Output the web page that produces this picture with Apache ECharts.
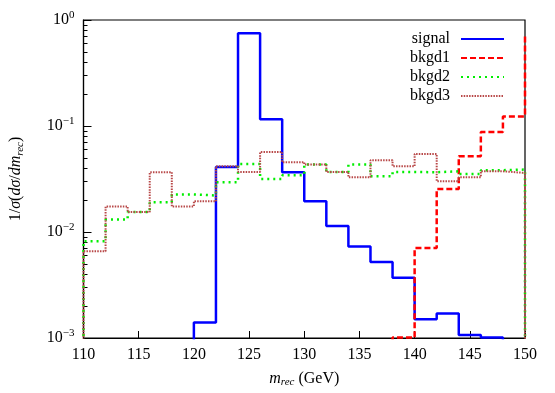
<!DOCTYPE html>
<html>
<head>
<meta charset="utf-8">
<script src="https://cdn.jsdelivr.net/npm/echarts@6/dist/echarts.min.js"></script>
<style>
  html, body { margin: 0; padding: 0; background: #fff; }
  #chart { width: 555px; height: 393px; }
</style>
</head>
<body>
<div id="chart"></div>
<script>
// bin left edges (GeV), each bin is 2 GeV wide; 0 = empty bin
const binLeft = [108, 110, 112, 114, 116, 118, 120, 122, 124, 126, 128,
                 130, 132, 134, 136, 138, 140, 142, 144, 146, 148, 150]
const signal = [0, 0, 0, 0, 0, 0, 0.0014, 0.0411, 0.75, 0.116, 0.0366,
                0.0195, 0.0114, 0.0073, 0.0052, 0.0037, 0.0015, 0.0017, 0.00107, 0.00101, 0, 0]
const bkgd1 = [0, 0, 0, 0, 0, 0, 0, 0, 0, 0, 0,
               0, 0, 0, 0, 0.00101, 0.00706, 0.0255, 0.0518, 0.0878, 0.123, 0.7]
const bkgd2 = [0, 0.0082, 0.0131, 0.0154, 0.0191, 0.0226, 0.0221, 0.0295, 0.0439, 0.0317, 0.0343,
               0.0433, 0.0369, 0.0433, 0.0336, 0.0369, 0.0366, 0.0374, 0.0353, 0.0383, 0.0388, 0]
const bkgd3 = [0, 0.0066, 0.0174, 0.0154, 0.0366, 0.0174, 0.0195, 0.0417, 0.0369, 0.0569, 0.0455,
               0.0433, 0.0369, 0.0328, 0.0475, 0.0417, 0.0545, 0.0301, 0.0329, 0.0374, 0.0361, 0]

const xTicks = [110, 115, 120, 125, 130, 135, 140, 145, 150]
const yTicks = [0.001, 0.01, 0.1, 1]
const yMinor = [0.002, 0.003, 0.004, 0.005, 0.006, 0.007, 0.008, 0.009,
                0.02, 0.03, 0.04, 0.05, 0.06, 0.07, 0.08, 0.09,
                0.2, 0.3, 0.4, 0.5, 0.6, 0.7, 0.8, 0.9]

const FONT = 'Liberation Serif'

// histogram -> step points (empty bins pushed far below the axis, clipped)
function toSteps(vals) {
  let pts = binLeft.map((x, i) => [x, vals[i] > 0 ? vals[i] : 1e-9])
  pts.push([binLeft[binLeft.length - 1] + 2, pts[pts.length - 1][1]])
  return pts
}

function histo(name, vals, color, type, width) {
  return {
    name: name,
    type: 'line',
    step: 'end',
    symbol: 'none',
    clip: true,
    animation: false,
    lineStyle: { color: color, width: width, type: type, cap: 'butt' },
    itemStyle: { color: color },
    data: toSteps(vals)
  }
}

let myChart = echarts.init(document.getElementById('chart'))
myChart.setOption({
  animation: false,
  textStyle: { fontFamily: FONT },
  grid: {
    left: 82, right: 30, top: 20, bottom: 54,
    show: true, borderColor: '#000', borderWidth: 1.2, backgroundColor: 'transparent'
  },
  legend: {
    orient: 'vertical',
    right: 45, top: 26,
    align: 'right',
    itemWidth: 43, itemHeight: 14, itemGap: 3,
    itemStyle: { opacity: 0 },
    textStyle: { fontFamily: FONT, fontSize: 16, color: '#000', padding: [0, 6, 0, 0] },
    data: ['signal', 'bkgd1', 'bkgd2', 'bkgd3']
  },
  xAxis: {
    type: 'value',
    min: 110, max: 150, interval: 5,
    name: '{i|m}{sub|rec}{a| (GeV)}',
    nameLocation: 'middle',
    nameGap: 31,
    nameTextStyle: {
      rich: {
        a: { fontFamily: FONT, fontSize: 16, color: '#000' },
        i: { fontFamily: FONT, fontSize: 16, fontStyle: 'italic', color: '#000' },
        sub: { fontFamily: FONT, fontSize: 11, fontStyle: 'italic', color: '#000', padding: [8, 0, 0, 0] }
      }
    },
    axisLine: { lineStyle: { color: '#000', width: 1.2 } },
    axisTick: { inside: true, length: 7, lineStyle: { color: '#000' }, customValues: xTicks },
    axisLabel: { margin: 9, fontFamily: FONT, fontSize: 16, color: '#000', customValues: xTicks },
    splitLine: { show: false }
  },
  yAxis: [
    {
      type: 'log', logBase: 10,
      min: 0.001, max: 1,
      name: '{a|1/}{i|σ}{a|(}{i|dσ}{a|/}{i|dm}{sub|rec}{a|)}',
      nameLocation: 'middle',
      nameGap: 58,
      nameTextStyle: {
        rich: {
          a: { fontFamily: FONT, fontSize: 16, color: '#000' },
          i: { fontFamily: FONT, fontSize: 16, fontStyle: 'italic', color: '#000' },
          sub: { fontFamily: FONT, fontSize: 11, fontStyle: 'italic', color: '#000', padding: [8, 0, 0, 0] }
        }
      },
      axisLine: { show: true, lineStyle: { color: '#000', width: 1.2 } },
      axisTick: { inside: true, length: 8, lineStyle: { color: '#000' }, customValues: yTicks },
      axisLabel: {
        margin: 9,
        customValues: yTicks,
        formatter: function (v) {
          let e = Math.round(Math.log10(v))
          return '{b|10}{s|' + (e < 0 ? '−' + (-e) : e) + '}'
        },
        rich: {
          b: { fontFamily: FONT, fontSize: 16, color: '#000' },
          s: { fontFamily: FONT, fontSize: 11, color: '#000', padding: [0, 0, 9, 0] }
        }
      },
      splitLine: { show: false }
    },
    {
      type: 'log', logBase: 10,
      min: 0.001, max: 1,
      position: 'left',
      axisLine: { show: false },
      axisTick: { inside: true, length: 4, lineStyle: { color: '#000' }, customValues: yMinor },
      axisLabel: { show: false },
      splitLine: { show: false }
    }
  ],
  series: [
    histo('signal', signal, '#0000ff', 'solid', 2.5),
    histo('bkgd1', bkgd1, '#ff0000', [6, 3], 2.5),
    histo('bkgd2', bkgd2, '#00ee00', [2, 4], 2.5),
    histo('bkgd3', bkgd3, '#b84848', [1.5, 1.2], 2)
  ]
})
</script>
</body>
</html>
